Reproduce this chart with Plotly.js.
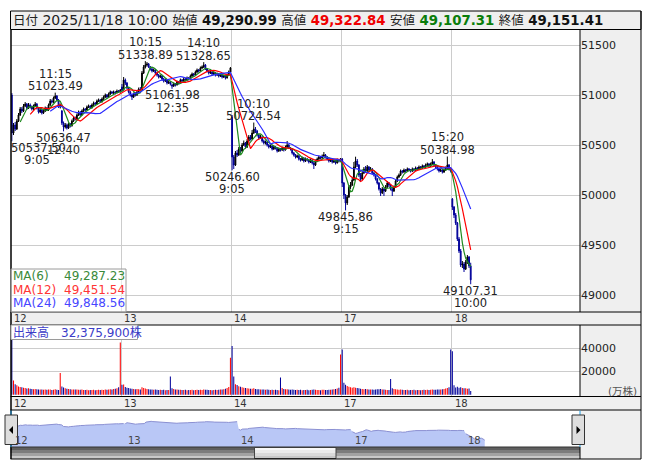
<!DOCTYPE html>
<html><head><meta charset="utf-8">
<script src="https://cdn.plot.ly/plotly-3.0.1.min.js"></script>
<style>html,body{margin:0;padding:0;background:#fff;}#chart{width:653px;height:470px;}</style>
</head><body><div id="chart"></div>
<script>
// ---------------- DATA ----------------
const dayLabels = ['12','13','14','17','18'];
const barsPerDay = 66;
const headerDate = '2025/11/18 10:00';

const openP = [
// 12
51000,50620,50700,50660,50740,50800,50860,50840,50890,50910,50870,
50900,50880,50860,50890,50910,50870,50830,50850,50820,50840,50870,
50850,50900,50940,50930,50970,50990,50950,50880,50840,50720,50680,
50700,50670,50710,50690,50740,50770,50760,50800,50830,50800,50840,
50860,50850,50880,50890,50870,50900,50920,50910,50940,50950,50930,
50960,50980,51000,50980,51010,51030,51020,51030,51020,51040,51030,
// 13
51080,51050,51150,51120,51070,51030,51000,50980,51010,51000,51030,
51060,51050,51220,51280,51300,51310,51280,51260,51240,51250,51220,
51200,51180,51190,51160,51140,51150,51120,51130,51100,51090,51110,
51100,51130,51120,51150,51140,51160,51150,51170,51160,51190,51210,
51200,51230,51250,51240,51270,51280,51300,51260,51240,51220,51230,
51210,51220,51200,51210,51190,51200,51180,51190,51170,51200,51230,
// 14
50780,50380,50300,50420,50400,50460,50440,50500,50520,50480,50540,
50580,50560,50620,50660,50640,50600,50570,50580,50540,50520,50530,
50500,50480,50490,50460,50480,50470,50440,50460,50450,50470,50450,
50480,50500,50470,50460,50420,50400,50380,50390,50360,50350,50370,
50340,50360,50350,50330,50350,50320,50300,50340,50360,50380,50370,
50390,50400,50380,50360,50340,50350,50330,50340,50320,50350,50340,
// 17
50360,50120,50000,49920,49980,50080,50100,50150,50280,50340,50300,
50200,50160,50220,50260,50240,50280,50250,50260,50220,50200,50160,
50120,50060,50020,50060,50040,50080,50120,50100,50060,50040,50080,
50140,50180,50200,50240,50230,50250,50240,50260,50250,50240,50260,
50250,50270,50260,50280,50270,50290,50280,50300,50310,50290,50310,
50330,50300,50280,50260,50240,50250,50230,50250,50270,50300,50260,
// 18
49960,49880,49800,49720,49560,49440,49300,49310,49260,49330,49380,49290.99
];

const highP = [
// 12
51020,50720,50730,50760,50820,50880,50880,50910,50930,50920,50920,
50915,50895,50905,50930,50920,50880,50870,50860,50855,50885,50880,
50915,50960,50955,50985,51023.49,51000,50960,50915,50850,50735,50720,
50715,50725,50720,50755,50785,50785,50815,50845,50840,50855,50875,
50870,50895,50905,50900,50915,50935,50930,50955,50965,50960,50975,
50995,51015,51010,51025,51045,51040,51045,51040,51055,51050,51060,
// 13
51110,51180,51165,51130,51080,51040,51010,51025,51030,51045,51075,
51080,51240,51300,51338.89,51330,51320,51290,51270,51265,51260,51230,
51210,51205,51200,51170,51165,51160,51145,51140,51115,51125,51120,
51145,51140,51165,51160,51175,51170,51185,51180,51205,51225,51220,
51245,51265,51260,51285,51295,51328.65,51310,51270,51250,51245,51240,
51235,51230,51225,51220,51215,51210,51205,51200,51215,51245,51280,
// 14
50800,50400,50440,50450,50480,50480,50520,50545,50530,50560,50600,
50600,50650,50724.54,50680,50650,50615,50600,50590,50555,50545,50540,
50510,50505,50500,50495,50490,50480,50475,50470,50485,50480,50495,
50540,50510,50480,50470,50430,50410,50405,50400,50370,50385,50380,
50375,50370,50360,50365,50360,50330,50355,50375,50395,50390,50405,
50430,50410,50390,50370,50365,50360,50355,50350,50365,50360,50370,
// 17
50370,50130,50010,50000,50100,50130,50180,50330,50383,50360,50310,
50220,50240,50280,50290,50300,50290,50280,50270,50230,50210,50170,
50130,50070,50080,50070,50100,50140,50130,50110,50075,50095,50155,
50195,50215,50255,50250,50265,50260,50275,50270,50260,50275,50270,
50285,50280,50295,50290,50305,50300,50315,50325,50320,50325,50360,
50340,50310,50290,50270,50265,50260,50265,50285,50384.98,50310,50270,
// 18
49970,49890,49820,49730,49580,49460,49340,49330,49350,49400,49390,49322.84
];

const lowP = [
// 12
50537.5,50600,50640,50650,50730,50790,50820,50830,50880,50850,50860,
50865,50845,50850,50880,50855,50815,50820,50805,50810,50830,50840,
50840,50890,50915,50920,50960,50935,50870,50865,50700,50636.47,50665,
50655,50660,50675,50685,50730,50745,50750,50790,50790,50795,50830,
50835,50845,50870,50860,50865,50890,50900,50905,50930,50920,50925,
50950,50970,50965,50975,51000,51010,51010,51005,51015,51020,51025,
// 13
51030,51045,51100,51060,51015,50985,50950,50970,50985,50990,51020,
51035,51045,51210,51265,51285,51270,51245,51225,51230,51205,51185,
51165,51170,51145,51125,51130,51105,51110,51095,51061.98,51080,51085,
51095,51105,51115,51125,51130,51135,51140,51145,51155,51180,51185,
51195,51220,51225,51235,51260,51270,51250,51225,51205,51210,51195,
51200,51185,51190,51175,51180,51165,51170,51155,51165,51190,51220,
// 14
50246.6,50260,50290,50380,50390,50420,50430,50490,50465,50470,50530,
50545,50550,50610,50620,50585,50555,50560,50525,50505,50505,50485,
50465,50470,50445,50450,50455,50425,50430,50435,50440,50435,50445,
50470,50460,50445,50405,50385,50365,50370,50345,50335,50340,50325,
50330,50335,50315,50320,50305,50260,50290,50330,50350,50355,50360,
50380,50365,50345,50325,50330,50315,50320,50305,50315,50325,50330,
// 17
50080,49960,49845.86,49900,49970,50060,50090,50140,50270,50280,50180,
50140,50150,50210,50225,50230,50235,50240,50205,50185,50145,50105,
50045,49990,50010,49990,50030,50070,50080,50045,49990,50030,50070,
50130,50170,50190,50215,50220,50225,50230,50235,50225,50230,50235,
50240,50245,50250,50255,50260,50265,50270,50290,50275,50280,50300,
50285,50265,50245,50225,50230,50215,50220,50240,50260,50245,50225,
// 18
49850,49770,49700,49540,49420,49280,49270,49230,49250,49310,49270,49107.31
];

const closeP = [
// 12
50620,50700,50660,50740,50800,50860,50840,50890,50910,50870,50900,
50880,50860,50890,50910,50870,50830,50850,50820,50840,50870,50850,
50900,50940,50930,50970,50990,50950,50880,50900,50720,50680,50700,
50670,50710,50690,50740,50770,50760,50800,50830,50800,50840,50860,
50850,50880,50890,50870,50900,50920,50910,50940,50950,50930,50960,
50980,51000,50980,51010,51030,51020,51030,51020,51040,51030,51050,
// 13
51050,51150,51120,51070,51030,51000,50980,51010,51000,51030,51060,
51050,51220,51280,51300,51310,51280,51260,51240,51250,51220,51200,
51180,51190,51160,51140,51150,51120,51130,51110,51090,51110,51100,
51130,51120,51150,51140,51160,51150,51170,51160,51190,51210,51200,
51230,51250,51240,51270,51280,51300,51260,51240,51220,51230,51210,
51220,51200,51210,51190,51200,51180,51190,51170,51200,51230,51270,
// 14
50380,50300,50420,50400,50460,50440,50500,50520,50480,50540,50580,
50560,50620,50660,50640,50600,50570,50580,50540,50520,50530,50500,
50480,50490,50460,50480,50470,50440,50460,50450,50470,50450,50480,
50500,50470,50460,50420,50400,50380,50390,50360,50350,50370,50340,
50360,50350,50330,50350,50320,50300,50340,50360,50380,50370,50390,
50400,50380,50360,50340,50350,50330,50340,50320,50350,50340,50360,
// 17
50120,50000,49920,49980,50080,50100,50150,50280,50340,50300,50200,
50160,50220,50260,50240,50280,50250,50260,50220,50200,50160,50120,
50060,50020,50060,50040,50080,50120,50100,50060,50040,50080,50140,
50180,50200,50240,50230,50250,50240,50260,50250,50240,50260,50250,
50270,50260,50280,50270,50290,50280,50300,50310,50290,50310,50330,
50300,50280,50260,50240,50250,50230,50250,50270,50300,50260,50240,
// 18
49880,49800,49720,49560,49440,49300,49310,49260,49330,49380,49290.99,49151.41
];

// volume in 万株
const volume = [
// 12
52000,12300,9000,8300,7200,6800,6500,6200,5800,5500,5600,
5200,5000,4900,5100,4800,4600,4700,4500,4400,4600,4300,
4500,4700,4200,4400,4800,4300,4100,18700,7200,6300,5600,
5200,5000,4800,4700,4600,4500,4700,4400,4300,4500,4200,
4100,4300,4000,4200,4100,4400,4000,4200,4300,4100,4400,
4200,4500,4300,4600,4800,4700,5000,5300,5600,6500,44800,
// 13
8700,8900,6700,6200,5800,5500,5300,5000,4900,5100,4800,
4700,6600,5900,5400,5000,4800,4600,4500,4400,4600,4300,
4200,4400,4100,4300,4000,4200,4100,15700,5600,5000,4700,
4500,4300,4400,4200,4100,4300,4000,4200,4100,4300,4000,
4200,4400,4100,4300,4200,4600,4400,4300,4100,4200,4000,
4100,4300,4200,4400,4500,4700,4900,5200,5800,6700,31800,
// 14
42000,15700,9200,8500,7400,6900,6500,6200,5900,5700,5500,
5300,5200,5600,5100,4900,4800,4600,4700,4500,4400,4600,
4300,4200,4400,4100,4300,4200,4000,14800,5800,5100,4800,
4900,4600,4400,4500,4300,4200,4400,4100,4300,4000,4200,
4100,4300,4000,4200,4400,4600,4300,4100,4200,4000,4300,
4400,4200,4100,4300,4400,4600,4800,5100,5500,6200,34600,
// 17
39000,10400,8700,7600,6900,6500,6200,6600,6100,5800,5600,
5300,5100,4900,5000,4800,4600,4500,4700,4400,4600,4800,
4900,5000,4600,4500,4300,4200,4100,13700,5600,5000,4800,
4600,4400,4500,4300,4200,4100,4300,4000,4200,4100,4300,
4000,4200,4100,4000,4200,4300,4100,4400,4200,4300,4600,
4400,4300,4500,4600,4700,4900,5100,5400,5900,6600,39000,
// 18
37300,8200,6400,6900,6200,6600,5900,5600,5700,5300,5400,3237.59
];
const volumeText = '32,375,900株';

const maPeriods = [6, 12, 24];
const maLabels = ['MA(6)', 'MA(12)', 'MA(24)'];
const maValues = ['49,287.23', '49,451.54', '49,848.56'];

// session highs / lows shown on the chart
const extIdx   = [26, 0, 31, 80, 115, 96, 132, 145, 200, 261, 275];
const extPrice = [51023.49, 50537.50, 50636.47, 51338.89, 51328.65, 51061.98, 50246.60, 50724.54, 49845.86, 50384.98, 49107.31];
const extTime  = ['11:15', '9:05', '12:40', '10:15', '14:10', '12:35', '9:05', '10:10', '9:15', '15:20', '10:00'];
const extKind  = ['high', 'low', 'low', 'high', 'high', 'low', 'low', 'high', 'low', 'high', 'low'];

const priceTicks = [49000, 49500, 50000, 50500, 51000, 51500];
const volTicks = [20000, 40000];

// ---------------- DRAWING ----------------
const W = 653, H = 470;
const X = v => v / W;
const Y = v => 1 - v / H;
const FONT = 'DejaVu Sans, Noto Sans CJK JP, sans-serif';
const UP = '#000000', DOWN = '#00009a';
const maColors = ['#1f8a1f', '#ff0000', '#2c2cff'];
const maTextColors = ['#3a8a3a', '#ff3535', '#4646ff'];

const idx = closeP.map((_, i) => i);
function sma(arr, n) {
  return arr.map((_, i) => {
    if (i < n - 1) return null;
    let s = 0; for (let k = i - n + 1; k <= i; k++) s += arr[k];
    return s / n;
  });
}
const dayBounds = dayLabels.slice(1).map((_, k) => (k + 1) * barsPerDay - 0.5);
const dayStarts = dayLabels.map((_, k) => k * barsPerDay - 0.5);

const traces = [];
traces.push({
  type: 'candlestick', x: idx, open: openP, high: highP, low: lowP, close: closeP,
  xaxis: 'x', yaxis: 'y', whiskerwidth: 0,
  increasing: {line: {color: UP, width: 1}, fillcolor: UP},
  decreasing: {line: {color: DOWN, width: 1}, fillcolor: DOWN},
  showlegend: false, hoverinfo: 'skip'
});
maPeriods.forEach((p, k) => traces.push({
  type: 'scatter', mode: 'lines', x: idx, y: sma(closeP, p), xaxis: 'x', yaxis: 'y',
  line: {color: maColors[k], width: 1.2}, showlegend: false, hoverinfo: 'skip'
}));
traces.push({
  type: 'bar', x: idx, y: volume, width: 0.62, xaxis: 'x2', yaxis: 'y2',
  marker: {color: closeP.map((c, i) => c >= openP[i] ? '#ff0000' : DOWN), line: {width: 0}},
  showlegend: false, hoverinfo: 'skip'
});
// navigator (whole period, day gaps)
const navX = [], navY = [];
closeP.forEach((c, i) => {
  if (i > 0 && i % barsPerDay === 0) { navX.push(null); navY.push(null); }
  navX.push(i); navY.push(c);
});
traces.push({
  type: 'scatter', mode: 'lines', x: navX, y: navY, xaxis: 'x3', yaxis: 'y3',
  fill: 'tozeroy', fillcolor: '#b9c7f6', line: {color: '#8b90d2', width: 1},
  connectgaps: false, showlegend: false, hoverinfo: 'skip'
});

// shapes
const shapes = [];
const rect = (x0, y0, x1, y1, fill, lc, lw, layer) => shapes.push({
  type: 'rect', xref: 'paper', yref: 'paper', x0: X(x0), x1: X(x1), y0: Y(y1), y1: Y(y0),
  fillcolor: fill, line: {color: lc || 'rgba(0,0,0,0)', width: lw || 0}, layer: layer || 'above'
});
const line = (x0, y0, x1, y1, c, w) => shapes.push({
  type: 'line', xref: 'paper', yref: 'paper', x0: X(x0), x1: X(x1), y0: Y(y0), y1: Y(y1),
  line: {color: c, width: w || 1}, layer: 'above'
});
const GREY = '#efefef';
// fills (below)
rect(10.5, 11, 641, 29.5, GREY, null, 0, 'below');
rect(580, 29.5, 641, 312, GREY, null, 0, 'below');
rect(10.5, 312, 641, 325, GREY, null, 0, 'below');
rect(580, 325, 641, 396.5, GREY, null, 0, 'below');
rect(10.5, 396.5, 641, 410, GREY, null, 0, 'below');
rect(580, 410, 641, 459, GREY, null, 0, 'below');
// scrollbar trough
rect(10.5, 447, 580, 450, '#5e5e5e', null, 0, 'below');
rect(10.5, 450, 580, 453, '#7c7c7c', null, 0, 'below');
rect(10.5, 453, 580, 456, '#a2a2a2', null, 0, 'below');
rect(10.5, 456, 580, 459, '#c9c9c9', null, 0, 'below');
// scrollbar thumb
rect(254.5, 447.5, 336, 450, '#f7f7f7', null, 0, 'above');
rect(254.5, 450, 336, 453, '#ebebeb', null, 0, 'above');
rect(254.5, 453, 336, 456, '#dadada', null, 0, 'above');
rect(254.5, 456, 336, 458.5, '#c8c8c8', null, 0, 'above');
rect(254.5, 447.5, 336, 458.5, 'rgba(0,0,0,0)', '#444', 1, 'above');
// frame lines
rect(10.5, 11, 641, 29.5, 'rgba(0,0,0,0)', '#000', 1, 'above');
line(11, 29.5, 11, 459, '#000', 1.5);
line(641, 11, 641, 459, '#000', 1);
[312, 325, 396.5, 410, 459].forEach(y => line(10.5, y, 641, y, '#000', 1));
line(580, 29.5, 580, 312, '#000', 1);
line(580, 325, 580, 396.5, '#000', 1);
line(580, 447, 580, 459, '#000', 1);
line(10.5, 447, 580, 447, '#333', 1);
// navigator window edges
line(11, 410.5, 11, 447, '#1e9ee6', 1);
line(580, 410.5, 580, 447, '#1e9ee6', 1);
// navigator buttons
rect(5, 415, 17.5, 444.5, '#dedede', '#333', 1, 'above');
rect(572, 415, 584.5, 444.5, '#dedede', '#333', 1, 'above');
shapes.push({type: 'path', xref: 'paper', yref: 'paper', layer: 'above',
  path: `M ${X(9)} ${Y(430)} L ${X(13)} ${Y(426)} L ${X(13)} ${Y(434)} Z`, fillcolor: '#000', line: {width: 0}});
shapes.push({type: 'path', xref: 'paper', yref: 'paper', layer: 'above',
  path: `M ${X(580.5)} ${Y(430)} L ${X(576.5)} ${Y(426)} L ${X(576.5)} ${Y(434)} Z`, fillcolor: '#000', line: {width: 0}});
// MA legend box and volume header box
rect(11, 269, 126, 312, 'rgba(255,255,255,0.55)', '#9a9a9a', 1, 'above');
rect(11, 325, 137.5, 339.5, '#ffffff', '#9a9a9a', 1, 'above');

// annotations
const annotations = [];
const A = o => annotations.push(Object.assign({showarrow: false, font: {family: FONT, size: 11.5, color: '#222'}}, o));

const fmt = n => n.toLocaleString('en-US', {minimumFractionDigits: 2, maximumFractionDigits: 2});
const last = closeP.length - 1;
const lab = t => `<span style="font-size:12.5px">${t}</span>`;
const val = (t, c) => `<b><span style="font-size:13.3px;color:${c}">${t}</span></b>`;
A({xref: 'paper', yref: 'paper', x: X(11), y: Y(20.3), xanchor: 'left', yanchor: 'middle',
  font: {family: FONT, size: 14, color: '#222'},
  text: `${lab('日付')} ${headerDate} ${lab('始値')} ${val(fmt(openP[last]), '#111')} ${lab('高値')} ${val(fmt(highP[last]), '#f00000')} ${lab('安値')} ${val(fmt(lowP[last]), '#0a7d0a')} ${lab('終値')} ${val(fmt(closeP[last]), '#111')}`});

extIdx.forEach((i, k) => {
  const s = extKind[k] === 'high' ? 1 : -1;
  const nearLeft = i < 8;
  const base = {xref: 'x', yref: 'y', x: nearLeft ? -0.5 : i, y: extPrice[k], yanchor: 'middle'};
  A(Object.assign({}, base, {text: extPrice[k].toFixed(2), xanchor: nearLeft ? 'left' : 'center', xshift: nearLeft ? -2 : 0, yshift: s * 6.5}));
  A(Object.assign({}, base, {text: extTime[k], xanchor: 'center', xshift: nearLeft ? 26 : 0, yshift: s * 19}));
});

dayLabels.forEach((d, k) => {
  A({xref: 'x', yref: 'paper', x: dayStarts[k], y: Y(318.5), xanchor: 'left', yanchor: 'middle', xshift: 1, text: d, font: {family: FONT, size: 10, color: '#333'}});
  A({xref: 'x', yref: 'paper', x: dayStarts[k], y: Y(403.3), xanchor: 'left', yanchor: 'middle', xshift: 1, text: d, font: {family: FONT, size: 10, color: '#333'}});
  A({xref: 'x3', yref: 'paper', x: dayStarts[k], y: Y(440.5), xanchor: 'left', yanchor: 'middle', xshift: 1.5, text: d, font: {family: FONT, size: 10, color: '#444'}});
});

maLabels.forEach((m, k) => {
  const y = Y(276 + k * 13.6);
  A({xref: 'paper', yref: 'paper', x: X(11), y, xanchor: 'left', yanchor: 'middle', text: m, font: {family: FONT, size: 12, color: maTextColors[k]}});
  A({xref: 'paper', yref: 'paper', x: X(126.5), y, xanchor: 'right', yanchor: 'middle', text: maValues[k], font: {family: FONT, size: 12, color: maTextColors[k]}});
});

A({xref: 'paper', yref: 'paper', x: X(11), y: Y(332.3), xanchor: 'left', yanchor: 'middle',
  text: '出来高\u3000' + volumeText, font: {family: FONT, size: 12, color: '#3c3cc8'}});
A({xref: 'paper', yref: 'paper', x: X(639), y: Y(390.5), xanchor: 'right', yanchor: 'middle',
  text: '(万株)', font: {family: FONT, size: 10.5, color: '#555'}});

const axCommon = {showticklabels: false, ticks: '', showgrid: true, gridcolor: '#cccccc', gridwidth: 1, zeroline: false, showline: false, fixedrange: true};
const layout = {
  width: W, height: H, margin: {l: 0, r: 0, t: 0, b: 0},
  paper_bgcolor: '#ffffff', plot_bgcolor: 'rgba(0,0,0,0)',
  showlegend: false, hovermode: false, dragmode: false,
  font: {family: FONT, size: 11, color: '#222'},
  xaxis: Object.assign({}, axCommon, {domain: [X(11), X(580)], range: [-0.5, 340.5], anchor: 'y', tickvals: dayBounds, rangeslider: {visible: false}}),
  yaxis: {domain: [Y(312), Y(29.5)], range: [48830, 51655], side: 'right', anchor: 'x',
    tickvals: priceTicks, ticktext: priceTicks.map(String), ticks: '', showgrid: true, gridcolor: '#cccccc',
    zeroline: false, showline: false, tickfont: {family: FONT, size: 11, color: '#222'}, fixedrange: true},
  xaxis2: Object.assign({}, axCommon, {domain: [X(11), X(580)], range: [-0.5, 340.5], anchor: 'y2', tickvals: dayBounds}),
  yaxis2: {domain: [Y(396.5), Y(325)], range: [-1400, 59900], side: 'right', anchor: 'x2',
    tickvals: volTicks, ticktext: volTicks.map(String), ticks: '', showgrid: true, gridcolor: '#cccccc',
    zeroline: false, showline: false, tickfont: {family: FONT, size: 11, color: '#222'}, fixedrange: true},
  xaxis3: {domain: [X(11), X(580)], range: [-0.5, 330.4], anchor: 'y3', visible: false, fixedrange: true},
  yaxis3: {domain: [Y(447), Y(410.5)], range: [48370, 52550], anchor: 'x3', visible: false, fixedrange: true},
  shapes, annotations
};
Plotly.newPlot('chart', traces, layout, {staticPlot: true, displayModeBar: false});
</script>
</body></html>
